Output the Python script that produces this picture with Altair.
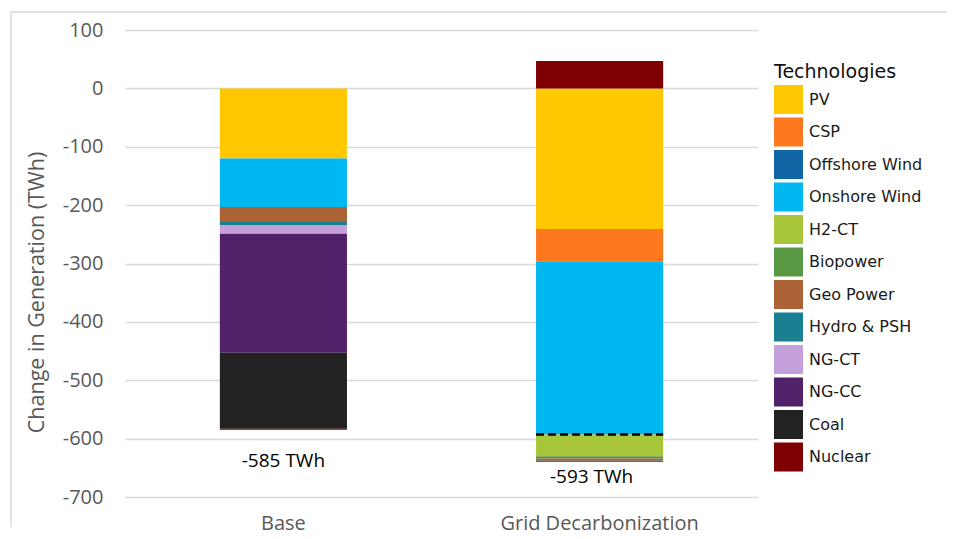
import altair as alt
import pandas as pd

techs = ["PV", "CSP", "Offshore Wind", "Onshore Wind", "H2-CT", "Biopower",
         "Geo Power", "Hydro & PSH", "NG-CT", "NG-CC", "Coal", "Nuclear"]
colors = ["#FFC800", "#FD781E", "#1166A6", "#00B7F1", "#A8C63A", "#5A9944",
          "#AA6236", "#1A7F90", "#C3A0DA", "#51216A", "#222222", "#7F0000"]
scenarios = ["Base", "Grid Decarbonization"]
base_vals = [-120, 0, 0, -83, 0, 0, -26, -5, -15, -204, -130, -2]
grid_vals = [-241, -55, 0, -297, -37, -4, -4, -2, 0, 0, 0, 47]
y_ticks = [100, 0, -100, -200, -300, -400, -500, -600, -700]

rows = []
for scen, vals in zip(scenarios, [base_vals, grid_vals]):
    for i, (t, v) in enumerate(zip(techs, vals)):
        if v != 0:
            rows.append({"scenario": scen, "tech": t, "value": v, "order": i})
df = pd.DataFrame(rows)

summ = []
for scen, vals in zip(scenarios, [base_vals, grid_vals]):
    net = sum(vals)
    bottom = sum(v for v in vals if v < 0)
    has_pos = any(v > 0 for v in vals)
    summ.append({"scenario": scen, "net": net, "bottom": bottom,
                 "label": f"{net} TWh", "has_pos": has_pos})
sdf = pd.DataFrame(summ)

FONT = "Open Sans"
GRAY = "#595959"

x_enc = alt.X("scenario:N", sort=scenarios, title=None,
              scale=alt.Scale(paddingInner=0.598, paddingOuter=0.3),
              axis=alt.Axis(labelAngle=0, labelFont=FONT, labelFontSize=20,
                            labelColor=GRAY, labelPadding=16, ticks=False,
                            domain=False, grid=False, labelLimit=500))

bars = alt.Chart(df).mark_bar().encode(
    x=x_enc,
    y=alt.Y("value:Q", stack="zero",
            scale=alt.Scale(domain=[-700, 100], nice=False),
            title="Change in Generation (TWh)",
            axis=alt.Axis(values=y_ticks, labelExpr="datum.value + ''",
                          labelFont=FONT, labelFontSize=20,
                          labelColor=GRAY, ticks=False, tickSize=0,
                          labelPadding=22, domain=False, gridColor="#d9d9d9",
                          gridWidth=1.5, titleFont=FONT, titleFontSize=21.5,
                          titleFontWeight="normal", titleColor=GRAY,
                          titlePadding=14, titleY=262)),
    color=alt.Color("tech:N", sort=techs, title="Technologies",
                    scale=alt.Scale(domain=techs, range=colors),
                    legend=alt.Legend(orient="none", legendX=649, legendY=33,
                                      padding=0, symbolType="square",
                                      symbolSize=841, symbolStrokeWidth=0,
                                      symbolOpacity=1,
                                      labelFont="DejaVu Sans", labelFontSize=16,
                                      labelColor="#1a1a1a", labelOffset=6,
                                      titleFont="DejaVu Sans", titleFontSize=19,
                                      titleFontWeight="normal", titleColor="#111111",
                                      titlePadding=3, rowPadding=3.5,
                                      labelLimit=300)),
    order=alt.Order("order:Q"),
)

dash = alt.Chart(sdf).transform_filter("datum.has_pos").mark_rule(
    color="black", strokeDash=[8, 4], strokeWidth=2.5
).encode(
    x=alt.X("scenario:N", sort=scenarios, bandPosition=0),
    x2=alt.X2("scenario", bandPosition=1),
    y="net:Q",
)

txt_base = alt.Chart(sdf).transform_filter("datum.scenario == 'Base'").mark_text(
    font=FONT, fontSize=19, color="black", dy=31, baseline="middle"
).encode(x=alt.X("scenario:N", sort=scenarios), y="bottom:Q", text="label:N")

txt_grid = alt.Chart(sdf).transform_filter("datum.scenario != 'Base'").mark_text(
    font=FONT, fontSize=19, color="black", dy=15, dx=-8, baseline="middle"
).encode(x=alt.X("scenario:N", sort=scenarios), y="bottom:Q", text="label:N")

frame_df = pd.DataFrame({"k": [0]})
frame_left = alt.Chart(frame_df).mark_rule(color="#d9d9d9", strokeWidth=1.5).encode(
    x=alt.value(-114), y=alt.value(-18), y2=alt.value(497))
frame_top = alt.Chart(frame_df).mark_rule(color="#d9d9d9", strokeWidth=1.5).encode(
    x=alt.value(-114), x2=alt.value(822), y=alt.value(-18))

chart = alt.layer(bars, dash, txt_base, txt_grid, frame_left, frame_top).properties(
    width=633, height=467,
    padding={"left": 2, "top": 3, "right": 0, "bottom": 4},
).configure_view(stroke=None)

chart.save("out.html", embed_options={"renderer": "svg", "actions": False})
